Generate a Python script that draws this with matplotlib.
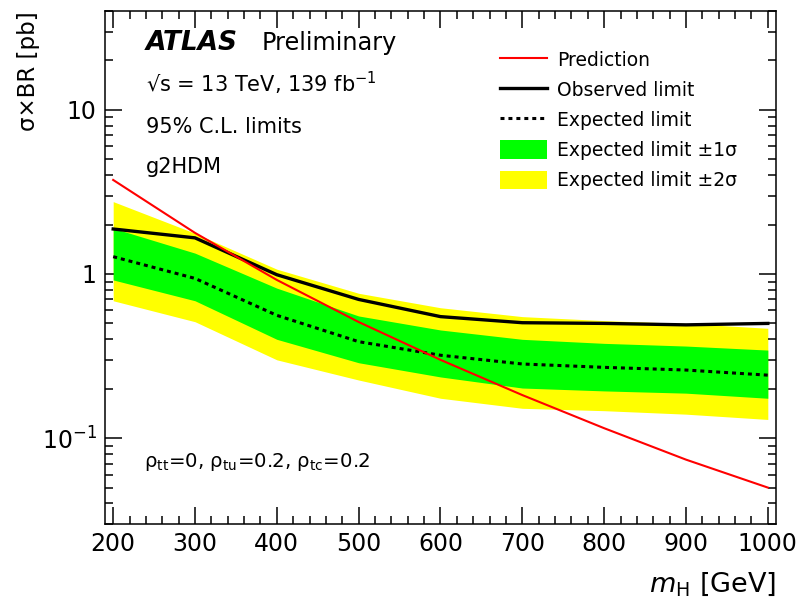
import matplotlib
matplotlib.use("Agg")
import matplotlib.pyplot as plt
from matplotlib.ticker import FixedLocator, FixedFormatter, MultipleLocator, LogLocator, NullFormatter
from matplotlib.lines import Line2D
from matplotlib.patches import Patch

plt.rcParams['font.family'] = ['DejaVu Sans']
plt.rcParams['mathtext.fontset'] = 'dejavusans'

mass = [200, 300, 400, 500, 600, 700, 800, 900, 1000]
prediction = [3.74, 1.78, 0.92, 0.51, 0.30, 0.183, 0.115, 0.074, 0.050]
observed = [1.88, 1.66, 0.99, 0.70, 0.55, 0.505, 0.50, 0.49, 0.50]
expected = [1.275, 0.94, 0.56, 0.387, 0.32, 0.283, 0.27, 0.26, 0.242]
band1_hi = [1.90, 1.34, 0.82, 0.555, 0.456, 0.40, 0.378, 0.364, 0.344]
band1_lo = [0.92, 0.687, 0.40, 0.288, 0.236, 0.202, 0.194, 0.188, 0.175]
band2_hi = [2.76, 1.77, 1.07, 0.763, 0.623, 0.55, 0.52, 0.50, 0.467]
band2_lo = [0.687, 0.512, 0.30, 0.226, 0.175, 0.152, 0.147, 0.140, 0.130]

fig = plt.figure(figsize=(8.04, 6.10), dpi=100)
ax = fig.add_axes([105/804, 1-524/610, 671/804, 513/610])

ax.fill_between(mass, band2_lo, band2_hi, color='#ffff00', lw=0, zorder=1)
ax.fill_between(mass, band1_lo, band1_hi, color='#00ff00', lw=0, zorder=2)
ax.plot(mass, expected, color='black', lw=2.2, ls=(0, (1.3, 1.3)), zorder=3)
ax.plot(mass, observed, color='black', lw=2.4, zorder=4)
ax.plot(mass, prediction, color='#ff0000', lw=1.5, zorder=5)

ax.set_yscale('log')
ax.set_xlim(190, 1010)
ax.set_ylim(0.03, 40)

ax.xaxis.set_major_locator(MultipleLocator(100))
ax.xaxis.set_minor_locator(MultipleLocator(20))
ax.yaxis.set_major_locator(FixedLocator([0.1, 1, 10]))
ax.yaxis.set_major_formatter(FixedFormatter([r'$\mathregular{10^{-1}}$', '1', '10']))
ax.yaxis.set_minor_locator(LogLocator(base=10, subs=range(2, 10)))
ax.yaxis.set_minor_formatter(NullFormatter())

ax.tick_params(which='both', direction='in', top=True, right=True, labelsize=17, width=1.1, pad=6)
ax.tick_params(which='major', length=12)
ax.tick_params(which='minor', length=6)
for s in ax.spines.values():
    s.set_linewidth(1.1)

ax.set_ylabel('σ×BR [pb]', fontsize=16.5)
ax.yaxis.set_label_coords(-0.097, 1.0)
ax.yaxis.label.set_ha('right')
ax.set_xlabel(r'$m_{\mathrm{H}}$ [GeV]', fontsize=19.5)
ax.xaxis.set_label_coords(1.0, -0.09)
ax.xaxis.label.set_ha('right')

tr = ax.transAxes
def ax_xy(px, py):
    return ((px - 105) / 671, (524 - py) / 513)

ax.text(*ax_xy(146, 50), 'ATLAS', fontsize=19, fontweight='bold', fontstyle='italic', transform=tr, va='baseline')
ax.text(*ax_xy(262, 50), 'Preliminary', fontsize=17.3, transform=tr, va='baseline')
ax.text(*ax_xy(146, 92), r'√s = 13 TeV, 139 fb$^{\mathrm{-1}}$', fontsize=15, transform=tr, va='baseline')
ax.text(*ax_xy(146, 133), '95% C.L. limits', fontsize=15, transform=tr, va='baseline')
ax.text(*ax_xy(146, 173), 'g2HDM', fontsize=15, transform=tr, va='baseline')
ax.text(*ax_xy(144, 467), r'ρ$_{\mathrm{tt}}$=0, ρ$_{\mathrm{tu}}$=0.2, ρ$_{\mathrm{tc}}$=0.2', fontsize=14.2, transform=tr, va='baseline')

handles = [
    Line2D([], [], color='#ff0000', lw=1.5),
    Line2D([], [], color='black', lw=2.4),
    Line2D([], [], color='black', lw=2.2, ls=(0, (1.3, 1.3))),
    Patch(facecolor='#00ff00', edgecolor='none'),
    Patch(facecolor='#ffff00', edgecolor='none'),
]
labels = ['Prediction', 'Observed limit', 'Expected limit',
          'Expected limit ±1σ', 'Expected limit ±2σ']
ax.legend(handles, labels, loc='upper left', bbox_to_anchor=ax_xy(500, 50),
          frameon=False, fontsize=13.5, handlelength=2.5, handleheight=1.15,
          handletextpad=0.55, labelspacing=0.56, borderpad=0, borderaxespad=0)

fig.savefig('out.png', dpi=100)
